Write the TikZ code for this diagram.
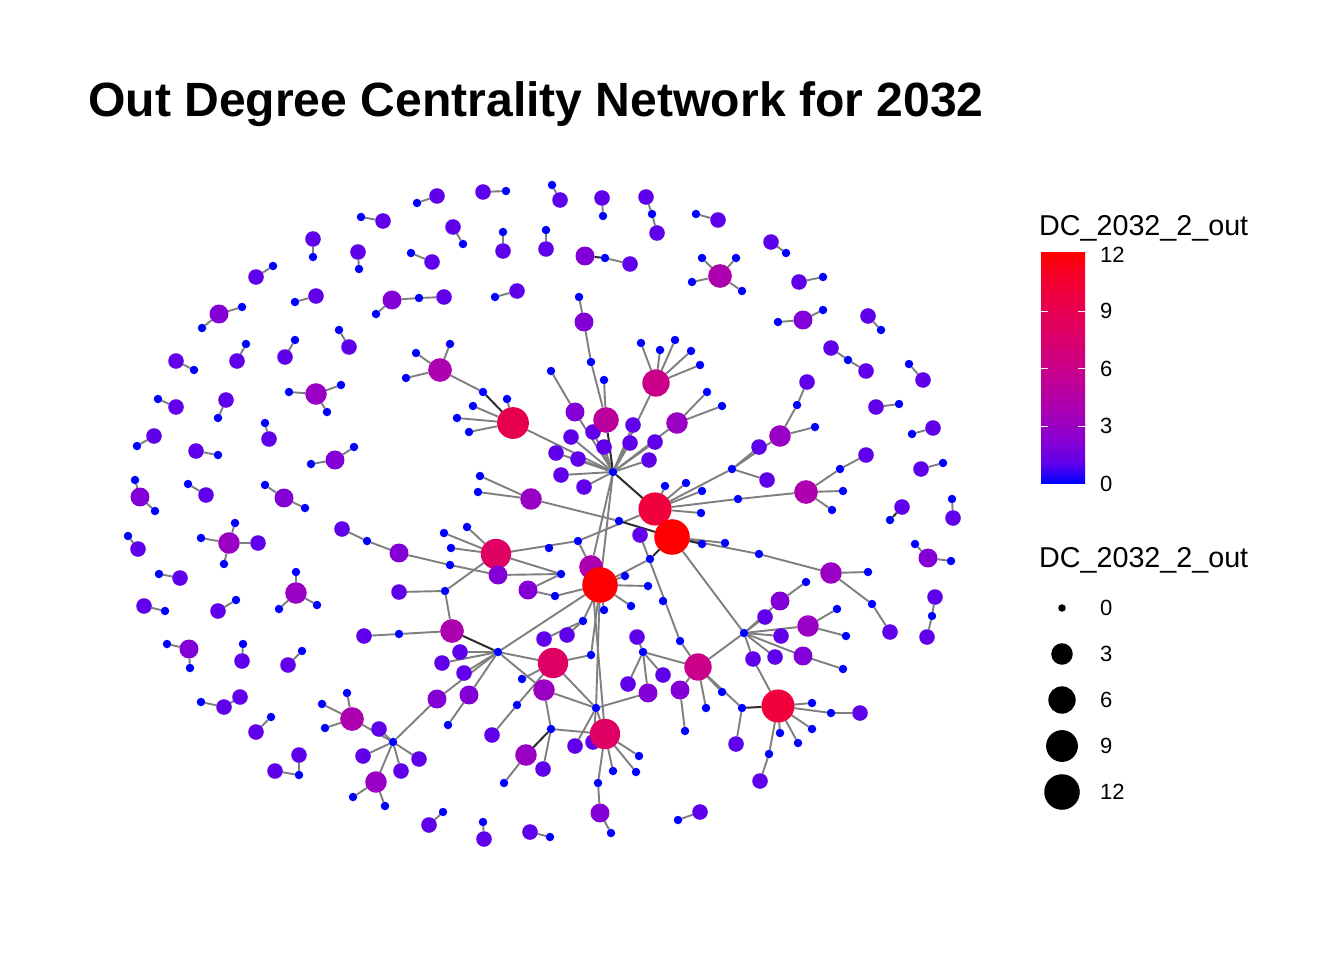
\documentclass[tikz,border=0pt]{standalone}
\usepackage{fontspec}
\setmainfont{Liberation Sans}
\pgfdeclarelayer{bgl}
\pgfdeclarelayer{edges}
\pgfsetlayers{bgl,edges,main}
\definecolor{c0}{RGB}{0,0,255}
\definecolor{c1}{RGB}{96,0,235}
\definecolor{c2}{RGB}{130,0,214}
\definecolor{c3}{RGB}{154,0,195}
\definecolor{c4}{RGB}{173,0,175}
\definecolor{c5}{RGB}{188,0,156}
\definecolor{c6}{RGB}{202,0,137}
\definecolor{c7}{RGB}{213,0,118}
\definecolor{c8}{RGB}{223,0,99}
\definecolor{c9}{RGB}{232,0,80}
\definecolor{c10}{RGB}{240,0,60}
\definecolor{c11}{RGB}{248,0,37}
\definecolor{c12}{RGB}{255,0,0}
\definecolor{edgegray}{RGB}{127,127,127}
\definecolor{edgedark}{RGB}{45,45,45}
\tikzset{
  nd/.style={circle,inner sep=0pt,outer sep=0pt,draw=none,fill=c#1},
  ed/.style={draw=edgegray,line width=1.9pt},
  edk/.style={draw=edgedark,line width=2pt},
  lbl/.style={anchor=west,inner sep=0pt,font=\fontsize{22}{26}\selectfont},
  ltitle/.style={anchor=base west,inner sep=0pt,font=\fontsize{28.7}{32}\selectfont},
  ptitle/.style={anchor=base west,inner sep=0pt,font=\fontsize{48.1}{56}\selectfont\bfseries},
  keydot/.style={circle,inner sep=0pt,fill=black,draw=none}
}
\newcommand\netnodes[1]{\foreach \n/\x/\y/\d in {#1}{\pgfmathsetmacro\sz{\d==0 ? 8.5 : 7.5+8.1*sqrt(\d)}\node[nd=\d,minimum size=\sz pt] (\n) at (\x,\y) {};}}
\newcommand\netedges[2]{\foreach \a/\b in {#2}{\draw[#1] (\a) -- (\b);}}
\begin{document}
\begin{tikzpicture}[x=1pt,y=-1pt]
\begin{pgfonlayer}{bgl}
\path[use as bounding box,fill=white] (0,0) rectangle (1344,960);
\end{pgfonlayer}
\node[ptitle] (title) at (88,117) {Out Degree Centrality Network for 2032};
% ---- nodes: blue (out-degree 0) first
\netnodes{a1/417/203/0,a2/506/191/0,a3/361/217/0,a4/463/244/0,a5/503/232/0,a6/313/257/0,a7/359/269/0,a8/411/253/0,a9/273/266/0,a10/295/302/0,a11/376/314/0,a11b/419/298/0,a12/495/297/0,a13/242/307/0,a13b/202/328/0,a14/194/370/0,a15/246/344/0,a16/295/340/0,a17/339/330/0,a18/416/353/0,a18b/450/344/0,a18c/406/378/0,a18d/483/392/0,a19/158/399/0,a20/218/418/0,a21/289/392/0,a21b/341/385/0,a21c/327/412/0,a22/137/446/0,a23/218/455/0,a24/265/423/0,a25/311/464/0,a25b/354/447/0,a26/135/480/0,a26b/155/511/0,a27/188/484/0,a28/265/485/0,a28b/305/508/0}
\netnodes{b1/552/185/0,b2/603/216/0,b3/652/214/0,b4/696/214/0,b5/546/230/0,b6/605/258/0,b7/702/258/0,b7b/736/258/0,b7c/692/282/0,b7d/742/291/0,b8/786/253/0,b9/823/277/0,b10/778/322/0,b10b/823/310/0,b11/881/330/0,b12/848/360/0,b13/909/364/0,b14/899/404/0,b15/912/434/0,b16/943/463/0,b17/890/520/0,b18/952/499/0,b19/915/544/0,b19b/951/561/0,b20/932/616/0}
\netnodes{d1/353/797/0,d1b/385/806/0,d2/443/812/0,d3/483/822/0,d4/550/837/0,d5/678/820/0,d6/598/783/0,d6b/611/833/0,e1/201/538/0,e1b/235/523/0,e1c/224/564/0,e2/128/536/0,e3/159/574/0,e4/296/572/0,e4b/279/609/0,e4c/317/605/0,e5/165/611/0,e6/236/600/0,e7/167/644/0,e7b/190/668/0,e8/243/644/0,e9/302/651/0,e10/201/702/0,e11/271/717/0,e12/299/775/0,e13/347/693/0,e13b/322/704/0,e13c/325/728/0,H3/393/742/0}
\netnodes{f1/367/541/0,f2/450/565/0,f3/445/591/0,f5/399/634/0,g1/444/533/0,g1b/467/527/0,g1c/451/548/0,g2/561/574/0,g3/549/548/0,g4/578/541/0,g5/555/596/0,r1/625/576/0,r1b/648/586/0,r1c/631/606/0,r1d/604/610/0,r1e/583/621/0,r1f/591/655/0,H2/498/652/0,j6/448/725/0,s1/522/679/0,s1b/517/705/0,H4/596/708/0,k1/551/729/0,k2/504/783/0,s2a/639/756/0,s2b/613/771/0,s2c/636/772/0}
\netnodes{H1/613/472/0,p1a/507/399/0,p1b/473/406/0,p1c/457/418/0,p1d/469/432/0,p2a/604/380/0,p4/579/297/0,p4b/591/362/0,p5/551/371/0,p6a/641/343/0,p6b/660/350/0,p6c/675/340/0,p6d/691/351/0,p6e/700/365/0,p7a/707/392/0,p7b/722/406/0,p3a/480/476/0,p3b/478/492/0,p3c/619/521/0}
\netnodes{q1a/665/486/0,q1b/686/483/0,q1c/702/491/0,q1d/738/499/0,q1e/701/513/0,q1f/732/469/0,q2a/702/544/0,q2b/725/543/0,q2c/759/554/0,q2d/650/559/0,n2/663/601/0,n3/680/641/0,n5/643/652/0,o5/685/731/0,t1/706/708/0,t2/722/692/0,t1b/742/708/0,H5/744/633/0,c1a/868/572/0,c1b/872/604/0,c2/806/582/0,c4a/837/609/0,c4b/846/636/0,c7/843/669/0,u1/812/703/0,u2/831/713/0,u3/812/729/0,u4/798/743/0,u5/780/733/0,u6/769/754/0,v1/797/405/0,v1b/815/427/0,v5/840/469/0,w1/843/491/0,w1b/832/510/0}
% ---- other nodes
\netnodes{A1/437/196/1,A2/483/192/1,A3/383/221/1,A4/453/227/1,A5/503/251/1,A6/313/239/1,A7/358/252/1,A8/432/262/1,A9/256/277/1,A10/316/296/1,A11/392/300/2,A11b/444/297/1,A12/517/291/1,A13/219/314/2,A14/176/361/1,A15/237/361/1,A16/285/357/1,A17/349/347/1,A18/440/370/4,A19/176/407/1,A20/226/400/1,A21/316/394/3,A22/154/436/1,A23/196/451/1,A24/269/439/1,A25/335/460/2,A26/140/497/2,A27/206/495/1,A28/284/498/2}
\netnodes{B1/560/200/1,B2/602/198/1,B3/646/197/1,B3b/657/233/1,B4/718/220/1,B5/546/249/1,B6/585/256/2,B6b/630/264/1,B7/720/276/4,B8/771/242/1,B9/799/282/1,B10/803/320/2,B11/868/316/1,B12/831/348/1,B12b/866/371/1,B13/923/380/1,B14/876/407/1,B15/933/428/1,B16/921/469/1,B17/902/507/1,B18/953/518/1,B19/928/558/2,B20/935/597/1,B20b/927/637/1}
\netnodes{D1/376/782/3,D2/429/825/1,D3/484/839/1,D4/530/832/1,D5/700/812/1,D6/600/813/2,E1/229/543/3,E1b/258/543/1,E2/138/549/1,E3/180/578/1,E4/296/593/3,E5/144/606/1,E6/218/611/1,E7/189/649/2,E8/242/661/1,E9/288/665/1,E10/240/697/1,E10b/224/707/1,E11/256/732/1,E12/299/755/1,E12b/275/771/1,E13/352/719/4,H3a/379/729/1,H3b/363/756/1,H3c/401/771/1,H3d/419/759/1}
\netnodes{F1/342/529/1,F2/399/553/2,F4/399/592/1,F5/452/631/4,F6/364/636/1,G1/496/554/8,G2/498/575/2,G3/528/590/2,J1/460/652/1,J2/442/663/1,J3/464/673/1,J5/437/699/2,J6/469/695/2,M1/544/639/1,M2/567/635/1,L1/492/735/1,K1/544/690/3,K2/526/755/3,K3/543/769/1,K4/575/746/1,K5/593/742/1,S1/553/663/8,S2/605/734/8}
\netnodes{X1/571/437/1,X2/593/432/1,X3/556/453/1,X4/578/459/1,X5/604/447/1,X6/630/443/1,X7/633/425/1,X8/655/442/1,X9/649/460/1,X10/561/475/1,X11/584/487/1,P1/513/423/9,P2/606/420/5,P4/584/322/2,P5/575/412/2,P6/656/383/6,P7/677/423/3,P3/531/499/3}
\netnodes{N1/640/535/1,O1/637/637/1,O2/628/684/1,O3/648/693/2,O4/663/675/1,O5/680/690/2,T1/698/667/6,C1/831/573/3,C9/890/632/1,C2/780/601/2,C3/765/617/1,C4/808/626/3,C5/781/636/1,C6/775/657/1,C7/803/656/2,C8/753/659/1,U2/860/713/1,U3/760/781/1,U4/736/744/1,V1/780/436/3,V2/807/382/1,V3/759/447/1,V4/767/480/1,V5/866/455/1,W1/806/492/4,U1/778/706/10,G4/591/567/4,Q1/655/509/10,Q2/672/537/12,R1/600/585/12}
% ---- edges
\begin{pgfonlayer}{edges}
\netedges{ed}{A1/a1,A2/a2,A3/a3,A4/a4,A5/a5,A6/a6,A7/a7,A8/a8,A9/a9,A10/a10,A11/a11,A11/a11b,A11b/a11b,A12/a12,A13/a13,A13/a13b,A14/a14,A15/a15,A16/a16,A17/a17,A18/a18,A18/a18b,A18/a18c,A18/a18d,A19/a19,A20/a20,A21/a21,A21/a21b,A21/a21c,A22/a22,A23/a23,A24/a24,A25/a25,A25/a25b,A26/a26,A26/a26b,A27/a27,A28/a28,A28/a28b}
\netedges{ed}{B1/b1,B2/b2,B3/b3,B3b/b3,B4/b4,B5/b5,B6b/b6,B7/b7,B7/b7b,B7/b7c,B7/b7d,B8/b8,B9/b9,B10/b10,B10/b10b,B11/b11,B12/b12,B12b/b12,B13/b13,B14/b14,B15/b15,B16/b16,B18/b18,B19/b19,B19/b19b,B20/b20,B20b/b20}
\netedges{ed}{D1/d1,D1/d1b,D1/H3,D2/d2,D3/d3,D4/d4,D5/d5,D6/d6,D6/d6b,E1/e1,E1/e1b,E1/e1c,E1b/E1,E2/e2,E3/e3,E4/e4,E4/e4b,E4/e4c,E5/e5,E6/e6,E7/e7,E7/e7b,E8/e8,E9/e9,E10b/e10,E10/E10b,E11/e11,E12/e12,E12b/e12,E13/e13,E13/e13b,E13/e13c,E13/H3,H3a/H3,H3b/H3,H3c/H3,H3d/H3}
\netedges{ed}{F1/f1,F2/f1,F2/f2,G2/f2,F4/f3,F5/f3,G1/f3,F5/f5,F6/f5,G1/g1,G1/g1b,G1/g1c,G1/g4,G1/g2,G2/g2,G3/g2,G3/g5,G4/H1,R1/H1,R1/r1,R1/r1b,R1/r1c,R1/r1d,R1/r1e,R1/r1f,R1/H4,R1/H2,R1/g5,R1/q2d,G4/S2,G4/g4}
\netedges{ed}{J1/H2,J2/H2,J3/H2,J5/H2,J5/H3,J6/H2,J6/j6,M1/r1e,M2/r1e,S1/s1,S1/s1b,S1/r1f,S1/H2,S1/H4,L1/s1b,K1/H4,K1/H2,K1/k1,K2/k2,K3/k1,K4/H4,K5/H4,S2/s2a,S2/s2b,S2/s2c,S2/d6,S2/k1,S2/H4}
\netedges{ed}{P1/p1a,P1/p1b,P1/p1c,P1/p1d,P1/H1,P2/p2a,P2/p4b,P4/p4,P4/p4b,P5/p5,P5/H1,P6/p6a,P6/p6b,P6/p6c,P6/p6d,P6/p6e,P6/H1,P7/p7a,P7/p7b,P7/H1,X1/H1,X2/H1,X3/H1,X4/H1,X5/H1,X6/H1,X7/H1,X8/H1,X9/H1,X10/H1,X11/H1,P3/p3a,P3/p3b,P3/p3c}
\netedges{ed}{Q1/q1a,Q1/q1b,Q1/q1c,Q1/q1d,Q1/q1e,Q1/q1f,Q1/g4,Q2/q2b,Q2/q2c,Q2/H5,N1/n3,O1/n5,O2/n5,O3/n5,O3/H4,O4/n5,O5/o5,O5/T1,T1/n5,T1/t1,T1/t2,T1/t1b,T1/H5,T1/n3}
\netedges{ed}{C1/c1a,C1/c1b,C1/q2c,C9/c1b,C2/c2,C2/H5,C3/H5,C4/c4a,C4/c4b,C4/H5,C5/H5,C6/H5,C7/H5,C7/c7,C8/H5,U1/C8,U1/u1,U1/u2,U1/u3,U1/u4,U1/u5,U1/u6,U2/u2,U3/u6,U4/t1b,V1/v1,V1/v1b,V1/q1f,V2/v1,V3/q1f,V4/q1f,V5/v5,W1/v5,W1/w1,W1/w1b,W1/q1d}
\netedges{edk}{B6/b6,B17/b17,P1/a18d,P2/H1,Q1/H1,F5/H2,K2/k1,U1/t1b,Q2/p3c,Q2/q2a,Q2/q2d}
\end{pgfonlayer}
% ---- colour legend
\node[ltitle] (lt1) at (1039,236) {DC\_2032\_2\_out};
\foreach \k in {0,...,11}{
  \pgfmathtruncatemacro\kk{\k+1}
  \pgfmathsetmacro\ya{483-\k*230/12}
  \pgfmathsetmacro\yb{483-(\k+1)*230/12-0.6}
  \shade[bottom color=c\k,top color=c\kk] (1041,\ya) rectangle (1085,\yb);
}
\foreach \v/\yy in {9/311,6/368.5,3/426}{
  \draw[white,line width=1pt] (1041,\yy) -- (1048,\yy) (1078,\yy) -- (1085,\yy);
}
\node[lbl] (cl12) at (1100,255) {12};
\node[lbl] (cl9) at (1100,311) {9};
\node[lbl] (cl6) at (1100,369) {6};
\node[lbl] (cl3) at (1100,426) {3};
\node[lbl] (cl0) at (1100,484) {0};
% ---- size legend
\node[ltitle] (lt2) at (1039,567) {DC\_2032\_2\_out};
\foreach \v/\yy in {0/608,3/654,6/700,9/746,12/792}{
  \pgfmathsetmacro\sz{7.5+8.1*sqrt(\v)}
  \node[keydot,minimum size=\sz pt] (kd\v) at (1062,\yy) {};
  \node[lbl] (kl\v) at (1100,\yy) {\v};
}
\end{tikzpicture}
\end{document}
